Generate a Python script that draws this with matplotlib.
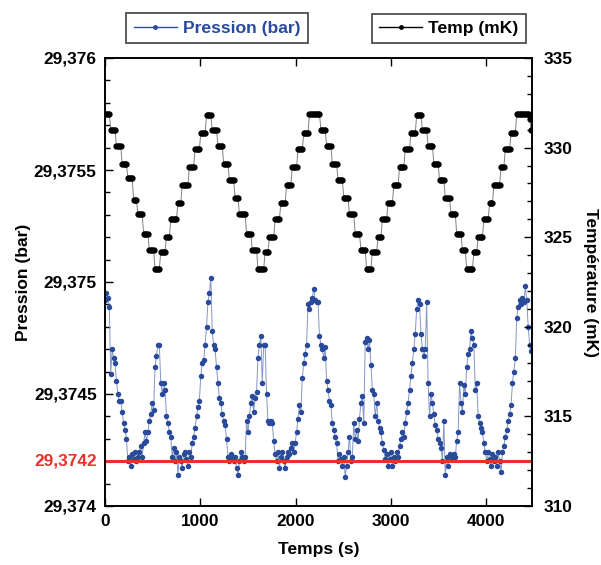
import numpy as np
import matplotlib.pyplot as plt
from matplotlib.lines import Line2D
from matplotlib.ticker import MultipleLocator

plt.rcParams['font.family'] = ['Liberation Sans', 'DejaVu Sans']
plt.rcParams['font.weight'] = 'bold'

# pression, en 1e-5 bar au-dessus de 29,374 bar, un point toutes les 15 s
dt = 15
pression_u = [
    92, 95, 93, 89, 59, 70, 66, 64, 56, 50, 47, 47, 42, 37, 34, 30, 20, 22, 18, 23,
    21, 24, 20, 22, 24, 27, 22, 28, 33, 29, 33, 38, 41, 46, 43, 62, 67, 72, 72, 55,
    50, 55, 52, 40, 37, 33, 31, 22, 26, 20, 24, 14, 22, 20, 17, 23, 24, 21, 18, 24,
    22, 28, 31, 35, 40, 44, 47, 58, 64, 65, 72,
    80, 91, 95, 102, 78, 72, 70, 62, 55, 48, 46, 41, 38, 36, 30, 22, 20, 23, 21, 20,
    22, 17, 14, 20, 24, 22, 20, 22, 38, 33, 40, 46, 49, 42, 48, 51, 66, 72, 76, 55,
    72, 72, 50, 38, 37, 38, 37, 29, 23, 20, 24, 17, 22, 24, 20, 17, 22, 24, 23, 26,
    28, 24, 28, 33, 39, 45, 42, 57, 64, 68, 72, 90, 88,
    91, 93, 97, 92, 91, 91, 76, 72, 70, 66, 71, 56, 52, 47, 45, 37, 34, 31, 28, 20,
    23, 21, 18, 22, 13, 18, 24, 31, 20, 22, 37, 30, 34, 29, 39, 46, 49, 37, 73, 75,
    70, 74, 63, 52, 50, 40, 46, 38, 35, 33, 28, 25, 21, 23, 18, 21, 24, 18, 22, 20,
    24, 22, 27, 30, 33, 31, 37, 42, 46, 52, 58, 64, 70, 77,
    88, 92, 90, 77, 70, 67, 70, 91, 55, 40, 50, 46, 41, 36, 34, 30, 28, 26, 20, 38,
    14, 22, 18, 23, 22, 21, 23, 22, 29, 33, 55, 46, 42, 54, 50, 62, 68, 70, 78, 75,
    72, 52, 55, 40, 37, 35, 33, 28, 24, 20, 24, 21, 18, 23, 20, 22, 18, 24, 20, 15,
    24, 27, 31, 34, 38, 41, 45, 55, 60, 66, 84, 89, 92, 90, 93, 91, 98, 92, 80, 72,
    69,
]

# temperature en paliers (mK) et nombre de points par palier
temp_paliers = [
    331.9, 331.0, 330.1, 329.1, 328.3, 327.1, 326.3, 325.2, 324.3, 323.2,
    324.2, 325.0, 326.0, 326.9, 327.9, 328.9, 329.9, 330.8, 331.8,
    331.0, 330.1, 329.1, 328.2, 327.2, 326.3, 325.2, 324.3, 323.2,
    324.2, 325.0, 326.0, 326.9, 327.9, 328.9, 329.9, 330.8, 331.9,
    331.0, 330.1, 329.1, 328.2, 327.2, 326.3, 325.2, 324.3, 323.2,
    324.2, 325.0, 326.0, 326.9, 327.9, 328.9, 329.9, 330.8, 331.8,
    331.0, 330.1, 329.1, 328.2, 327.2, 326.3, 325.2, 324.3, 323.2,
    324.2, 325.0, 326.0, 326.9, 327.9, 328.9, 329.9, 330.8, 331.9, 331.6, 331.0,
]
temp_duree = [
    4, 4, 4, 4, 4, 3, 4, 4, 4, 4,
    4, 3, 5, 3, 5, 4, 4, 4, 4,
    4, 4, 4, 4, 3, 5, 4, 4, 5,
    3, 4, 4, 4, 4, 4, 4, 4, 8,
    4, 4, 4, 4, 4, 4, 4, 4, 4,
    4, 3, 4, 4, 4, 4, 4, 4, 4,
    4, 4, 4, 4, 4, 4, 4, 3, 5,
    3, 4, 4, 3, 5, 3, 4, 4, 9, 1, 1,
]

yticks_p = [29.374, 29.3745, 29.375, 29.3755, 29.376]
ylabels_p = ['29,374', '29,3745', '29,375', '29,3755', '29,376']
ligne_ref = 29.3742

bleu = '#2a4b9b'
fs = 12.4

pression = 29.374 + np.array(pression_u) * 1e-5
t_p = np.arange(len(pression)) * dt
temp = np.repeat(temp_paliers, temp_duree)
t_t = np.arange(len(temp)) * dt

fig = plt.figure(figsize=(6.01, 5.65), dpi=100)
ax = fig.add_axes([105 / 601, 1 - 506 / 565, 427 / 601, 448 / 565])

ax.plot(t_p, pression, color='#8596c8', lw=0.7, marker='o', ms=2.9,
        mfc=bleu, mec=bleu, zorder=2)
ax.axhline(ligne_ref, color='#e8312b', lw=2.2, zorder=3)
ax.set_xlim(0, 4480)
ax.set_ylim(29.374, 29.376)
ax.set_yticks(yticks_p)
ax.set_yticklabels(ylabels_p)
ax.yaxis.set_minor_locator(MultipleLocator(0.0001))
ax.set_xticks([0, 1000, 2000, 3000, 4000])
ax.tick_params(which='both', direction='in', top=True, labelsize=fs, width=1)
ax.tick_params(which='major', length=6, pad=6)
ax.tick_params(which='minor', length=3.5)
ax.text(-8 / 427, ligne_ref, '29,3742', color='#e8312b', fontsize=fs, fontweight='bold',
        ha='right', va='center', transform=ax.get_yaxis_transform())
ax.set_xlabel('Temps (s)', fontsize=12.5, fontweight='bold', labelpad=9)
ax.set_ylabel('Pression (bar)', fontsize=12.5, fontweight='bold', labelpad=2)

ax2 = ax.twinx()
ax2.plot(t_t, temp, color='#808080', lw=0.7, marker='o', ms=3.5,
         mfc='black', mec='black')
ax2.set_ylim(310, 335)
ax2.yaxis.set_major_locator(MultipleLocator(5))
ax2.yaxis.set_minor_locator(MultipleLocator(1))
ax2.tick_params(which='both', direction='in', labelsize=fs, width=1)
ax2.tick_params(which='major', length=6, pad=8)
ax2.tick_params(which='minor', length=3.5)
ax2.set_ylabel('Température (mK)', fontsize=12.5, fontweight='bold',
               rotation=270, va='bottom', labelpad=8)

for a in (ax, ax2):
    for s in a.spines.values():
        s.set_linewidth(1.2)

h1 = Line2D([], [], color=bleu, lw=1, marker='o', ms=2.5)
h2 = Line2D([], [], color='black', lw=1, marker='o', ms=2.5)
leg_kw = dict(loc='center', fancybox=False, edgecolor='#222222', handlelength=2.45,
              handletextpad=0.35, borderpad=0.42, prop={'weight': 'bold', 'size': 12.6})
leg1 = fig.legend([h1], ['Pression (bar)'], bbox_to_anchor=(217 / 601, 1 - 28 / 565), **leg_kw)
leg1.get_texts()[0].set_color(bleu)
leg1.get_frame().set_linewidth(1.3)
leg2 = fig.legend([h2], ['Temp (mK)'], bbox_to_anchor=(449 / 601, 1 - 28.5 / 565), **leg_kw)
leg2.get_frame().set_linewidth(1.3)

fig.savefig('out.png', dpi=100)
